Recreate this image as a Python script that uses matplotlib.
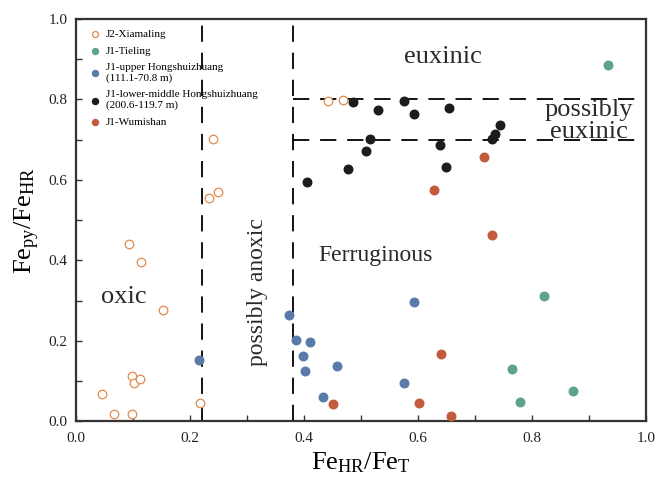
import matplotlib

matplotlib.use("Agg")
import matplotlib.pyplot as plt
from matplotlib.ticker import MultipleLocator

plt.rcParams["font.family"] = ["Liberation Serif", "DejaVu Serif"]
plt.rcParams["mathtext.fontset"] = "custom"
plt.rcParams["mathtext.rm"] = "Liberation Serif"
plt.rcParams["mathtext.it"] = "Liberation Serif:italic"

# FeHR/FeT (x) and Fepy/FeHR (y) per unit
xiamaling_x = [0.093, 0.114, 0.152, 0.098, 0.102, 0.112, 0.045, 0.066, 0.098, 0.218,
               0.240, 0.249, 0.233, 0.442, 0.469]
xiamaling_y = [0.440, 0.395, 0.276, 0.112, 0.096, 0.106, 0.068, 0.018, 0.018, 0.046,
               0.701, 0.570, 0.555, 0.796, 0.799]

tieling_x = [0.933, 0.820, 0.765, 0.871, 0.779]
tieling_y = [0.886, 0.311, 0.129, 0.075, 0.048]

upper_hsz_x = [0.216, 0.373, 0.592, 0.385, 0.411, 0.398, 0.401, 0.458, 0.575, 0.433]
upper_hsz_y = [0.152, 0.265, 0.297, 0.201, 0.198, 0.163, 0.124, 0.137, 0.095, 0.061]

lower_hsz_x = [0.485, 0.530, 0.575, 0.592, 0.655, 0.516, 0.509, 0.477, 0.405, 0.638,
               0.649, 0.729, 0.735, 0.743]
lower_hsz_y = [0.794, 0.775, 0.796, 0.765, 0.779, 0.701, 0.672, 0.626, 0.594, 0.686,
               0.633, 0.701, 0.715, 0.736]

wumishan_x = [0.715, 0.627, 0.730, 0.640, 0.451, 0.601, 0.657]
wumishan_y = [0.658, 0.575, 0.463, 0.167, 0.043, 0.044, 0.014]

fig = plt.figure(figsize=(6.56, 4.88), dpi=100)
ax = fig.add_axes([0.116, 0.137, 0.869, 0.824])

ax.scatter(xiamaling_x, xiamaling_y, s=38, facecolors="white", edgecolors="#E08A4E",
           linewidths=0.9, label="J2-Xiamaling", zorder=3)
ax.scatter(tieling_x, tieling_y, s=38, color="#5FA38A", label="J1-Tieling", zorder=3)
ax.scatter(upper_hsz_x, upper_hsz_y, s=38, color="#5A7BAA",
           label="J1-upper Hongshuizhuang\n(111.1-70.8 m)", zorder=3)
ax.scatter(lower_hsz_x, lower_hsz_y, s=38, color="#1C1C1C",
           label="J1-lower-middle Hongshuizhuang\n(200.6-119.7 m)", zorder=3)
ax.scatter(wumishan_x, wumishan_y, s=38, color="#C25B3C", label="J1-Wumishan", zorder=3)

# redox boundaries
dash = dict(color="black", lw=1.3, dashes=(9, 6), zorder=2)
ax.axvline(0.22, **dash)
ax.axvline(0.38, **dash)
ax.plot([0.38, 1.0], [0.8, 0.8], **dash)
ax.plot([0.38, 1.0], [0.7, 0.7], **dash)

txt = dict(color="#2a2a2a", ha="center", va="center")
ax.text(0.644, 0.905, "euxinic", fontsize=19, **txt)
ax.text(0.9, 0.747, "possibly\neuxinic", fontsize=19, linespacing=1.0, **txt)
ax.text(0.526, 0.412, "Ferruginous", fontsize=17, **txt)
ax.text(0.083, 0.308, "oxic", fontsize=19, **txt)
ax.text(0.318, 0.32, "possibly anoxic", rotation=90, fontsize=17, **txt)

ax.set_xlim(0, 1)
ax.set_ylim(0, 1)
ax.xaxis.set_major_locator(MultipleLocator(0.2))
ax.xaxis.set_minor_locator(MultipleLocator(0.1))
ax.yaxis.set_major_locator(MultipleLocator(0.2))
ax.yaxis.set_minor_locator(MultipleLocator(0.1))
ax.tick_params(which="both", direction="in", length=4, width=1, color="#333333",
               labelsize=11, labelcolor="#222222")
ax.tick_params(axis="x", pad=8)
ax.tick_params(axis="y", pad=6)
for s in ax.spines.values():
    s.set_linewidth(1.6)
    s.set_color("#333333")

ax.set_xlabel(r"$\mathregular{Fe_{HR}/Fe_{T}}$", fontsize=19, labelpad=4)
ax.set_ylabel(r"$\mathregular{Fe_{py}/Fe_{HR}}$", fontsize=19, labelpad=5)

ax.legend(loc="upper left", frameon=False, fontsize=8, handletextpad=0.0,
          markerscale=0.7, borderaxespad=0.3, labelspacing=0.65,
          bbox_to_anchor=(0.0, 0.995))

fig.savefig("out.png", dpi=100)
plt.close(fig)
